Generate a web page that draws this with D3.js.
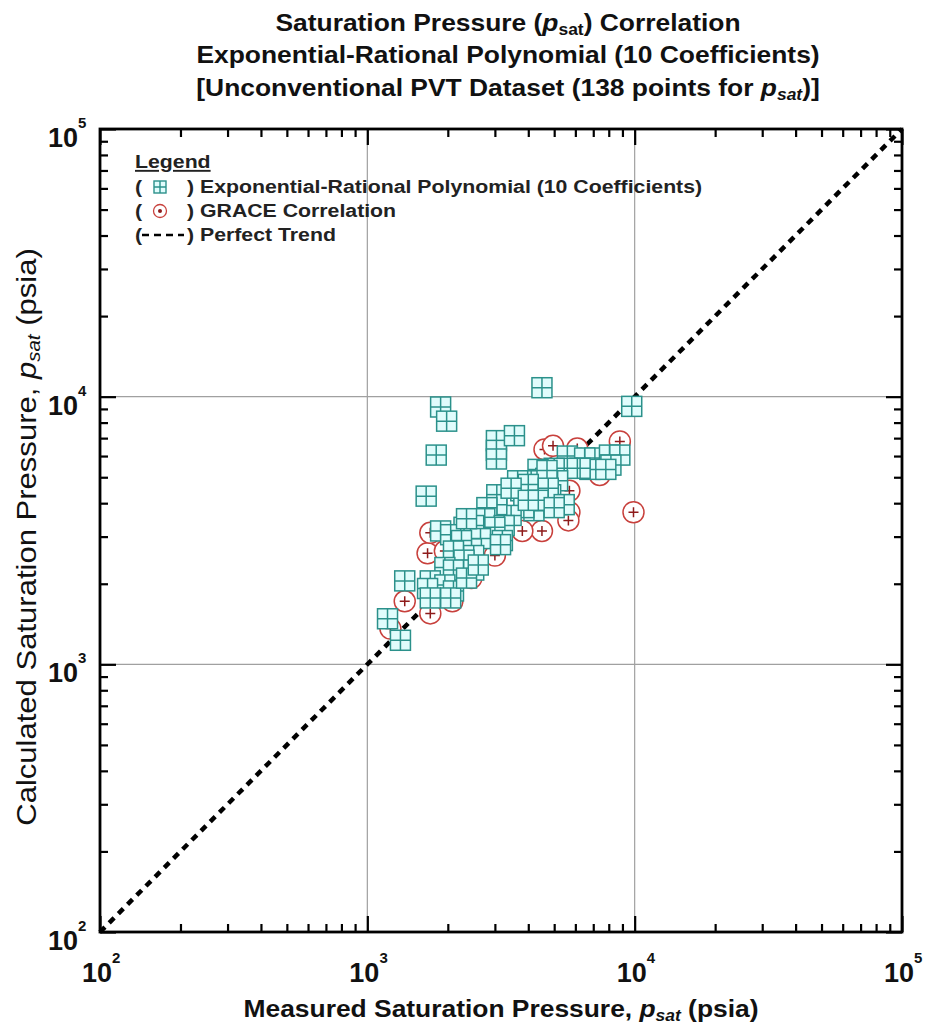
<!DOCTYPE html>
<html>
<head>
<meta charset="utf-8">
<script src="https://cdn.jsdelivr.net/npm/d3@7"></script>
<style>
  body { margin: 0; background: #fff; }
  svg text { font-family: "Liberation Sans", Arial, sans-serif; }
</style>
</head>
<body>
<div id="chart"></div>
<script>
// measured vs calculated p_sat (psia)
const erpMeasured = [4500, 9750, 1880, 1980, 1810, 1660, 3040, 3040, 3040, 3550,
  5600, 6500, 7100, 8050, 8800, 8150, 6800, 7800, 6250, 5600,
  5000, 4350, 4650, 5150, 4100, 3650, 3750, 4350, 4850, 5150,
  4200, 3850, 3450, 3050, 3050, 2800, 2750, 3250, 3000, 2500,
  2300, 1880, 2050, 2650, 3200, 2450, 2250, 2100, 2500, 2300,
  1950, 2100, 2500, 1720, 1950, 2100, 1380, 1680, 1720, 2050,
  1190, 1330, 4700, 4000, 3450, 4750, 5450, 4350, 2350, 2350,
  2600, 3150, 5000, 4000];
const erpCalculated = [10800, 9200, 9150, 8100, 6050, 4250, 6850, 6300, 5850, 7150,
  6000, 5900, 5900, 6050, 6050, 5550, 5350, 5350, 5400, 5400,
  5400, 5350, 4950, 4850, 4850, 4850, 4450, 4450, 4300, 3950,
  3750, 3850, 3600, 4300, 3950, 3850, 3500, 3300, 3250, 3300,
  3250, 3150, 3050, 2950, 2900, 2700, 2900, 2650, 2550, 2450,
  2300, 2250, 2250, 2050, 1980, 1880, 2050, 1920, 1770, 1770,
  1480, 1230, 5300, 4700, 4550, 4550, 3950, 4100, 3500, 2100,
  2350, 2800, 3850, 4100];

const graceMeasured = [4600, 4950, 6100, 8800, 7400, 5700, 5700, 5650, 9900, 4500,
  3800, 1680, 1950, 1380, 1720, 2080, 1220, 2450, 3000, 1720];
const graceCalculated = [6350, 6550, 6400, 6800, 5100, 4450, 3700, 3450, 3700, 3150,
  3150, 2600, 2650, 1720, 1550, 1720, 1360, 2100, 2550, 3100];

const decades = [2, 3, 4, 5];
const legendLabels = ["Exponential-Rational Polynomial (10 Coefficients)", "GRACE Correlation", "Perfect Trend"];

const teal = "#2b918b", tealFill = "#e0fcfc", red = "#c8403c", darkRed = "#8e1b1b";

const W = 925, H = 1028;
const m = { left: 100, top: 129, right: 23, bottom: 96 };
const pw = W - m.left - m.right, ph = H - m.top - m.bottom;

const svg = d3.select("#chart").append("svg")
  .attr("width", W).attr("height", H)
  .style("background", "#fff");

const x = d3.scaleLog().domain([100, 1e5]).range([m.left, m.left + pw]);
const y = d3.scaleLog().domain([100, 1e5]).range([m.top + ph, m.top]);

// text that is a bit wider than the font, like the original
function wideText(px, py, size, stretch, rotate) {
  const g = svg.append("g")
    .attr("transform", `translate(${px},${py})` + (rotate ? ` rotate(${rotate})` : "") + ` scale(${stretch},1)`);
  return g.append("text").attr("font-size", size).attr("fill", "#111");
}
function addSub(t, italicSub) {
  t.append("tspan").attr("font-style", "italic").text("p");
  t.append("tspan").attr("font-size", "0.66em").attr("dy", "0.25em")
    .attr("font-style", italicSub ? "italic" : null).text("sat");
}

// grid lines at 10^3, 10^4
const gridVals = [1e3, 1e4];
svg.append("g").selectAll("line").data(gridVals).enter().append("line")
  .attr("x1", d => x(d)).attr("x2", d => x(d))
  .attr("y1", m.top).attr("y2", m.top + ph)
  .attr("stroke", "#a0a0a0").attr("stroke-width", 1.2);
svg.append("g").selectAll("line").data(gridVals).enter().append("line")
  .attr("y1", d => y(d)).attr("y2", d => y(d))
  .attr("x1", m.left).attr("x2", m.left + pw)
  .attr("stroke", "#a0a0a0").attr("stroke-width", 1.2);

// perfect trend line
svg.append("line")
  .attr("x1", x(100)).attr("y1", y(100))
  .attr("x2", x(1e5)).attr("y2", y(1e5))
  .attr("stroke", "#000").attr("stroke-width", 4.5)
  .attr("stroke-dasharray", "7,6");

// GRACE circles
const grace = graceMeasured.map((v, i) => [v, graceCalculated[i]]);
const cg = svg.append("g").selectAll("g").data(grace).enter().append("g")
  .attr("transform", d => `translate(${x(d[0])},${y(d[1])})`);
cg.append("circle").attr("r", 10.5).attr("fill", "#fff")
  .attr("stroke", red).attr("stroke-width", 1.5);
cg.append("path").attr("d", "M-5,0H5M0,-5V5")
  .attr("stroke", darkRed).attr("stroke-width", 1.5);

// ERP squares
const erp = erpMeasured.map((v, i) => [v, erpCalculated[i]]);
const sq = svg.append("g").selectAll("g").data(erp).enter().append("g")
  .attr("transform", d => `translate(${x(d[0])},${y(d[1])})`);
sq.append("rect").attr("x", -10).attr("y", -10).attr("width", 20).attr("height", 20)
  .attr("fill", tealFill).attr("stroke", teal).attr("stroke-width", 1.5);
sq.append("path").attr("d", "M-10,0H10M0,-10V10")
  .attr("stroke", teal).attr("stroke-width", 1.5);

// axes: ticks inward on all four sides
const tickVals = [];
for (let e = 2; e < 5; e++) for (let k = 1; k < 10; k++) tickVals.push(k * Math.pow(10, e));
tickVals.push(1e5);
const isMajor = v => Math.abs(Math.log10(v) - Math.round(Math.log10(v))) < 1e-9;

function styleAxis(g, horiz, sign) {
  g.select(".domain").remove();
  g.selectAll(".tick line")
    .attr("stroke", "#000").attr("stroke-width", 2.2)
    .each(function (d) {
      const len = isMajor(d) ? 16 : 8;
      if (horiz) d3.select(this).attr("y2", sign * len);
      else d3.select(this).attr("x2", sign * len);
    });
}
const mk = a => a.tickValues(tickVals).tickFormat("").tickSizeOuter(0);
svg.append("g").attr("transform", `translate(0,${m.top + ph})`).call(mk(d3.axisBottom(x))).call(g => styleAxis(g, true, -1));
svg.append("g").attr("transform", `translate(0,${m.top})`).call(mk(d3.axisTop(x))).call(g => styleAxis(g, true, 1));
svg.append("g").attr("transform", `translate(${m.left},0)`).call(mk(d3.axisLeft(y))).call(g => styleAxis(g, false, 1));
svg.append("g").attr("transform", `translate(${m.left + pw},0)`).call(mk(d3.axisRight(y))).call(g => styleAxis(g, false, -1));

svg.append("rect").attr("x", m.left).attr("y", m.top).attr("width", pw).attr("height", ph)
  .attr("fill", "none").attr("stroke", "#000").attr("stroke-width", 2.8);

// tick labels 10^n
const xl = svg.append("g").selectAll("text").data(decades).enter().append("text")
  .attr("x", d => x(Math.pow(10, d)) - 18).attr("y", m.top + ph + 50)
  .attr("font-size", 27).attr("font-weight", "bold").attr("fill", "#111");
xl.append("tspan").text("10");
xl.append("tspan").attr("dy", -19).attr("font-size", 15).text(d => d);

const yl = svg.append("g").selectAll("text").data(decades).enter().append("text")
  .attr("x", 48).attr("y", d => y(Math.pow(10, d)) + 18)
  .attr("font-size", 27).attr("font-weight", "bold").attr("fill", "#111");
yl.append("tspan").text("10");
yl.append("tspan").attr("dy", -19).attr("font-size", 15).text(d => d);

// title
const t1 = wideText(508, 31, 24, 1.1).attr("text-anchor", "middle").attr("font-weight", "bold");
t1.append("tspan").text("Saturation Pressure (");
addSub(t1, false);
t1.append("tspan").attr("dy", "-0.16em").text(") Correlation");

wideText(508, 63, 24, 1.1).attr("text-anchor", "middle").attr("font-weight", "bold")
  .text("Exponential-Rational Polynomial (10 Coefficients)");

const t3 = wideText(508, 96, 24, 1.1).attr("text-anchor", "middle").attr("font-weight", "bold");
t3.append("tspan").text("[Unconventional PVT Dataset (138 points for ");
addSub(t3, true);
t3.append("tspan").attr("dy", "-0.16em").text(")]");

// axis titles
const xt = wideText(501, 1017, 24, 1.1).attr("text-anchor", "middle").attr("font-weight", "bold");
xt.append("tspan").text("Measured Saturation Pressure, ");
addSub(xt, true);
xt.append("tspan").attr("dy", "-0.16em").text(" (psia)");

const yt = wideText(36, 537, 27, 1.15, -90).attr("text-anchor", "middle");
yt.append("tspan").text("Calculated Saturation Pressure, ");
addSub(yt, true);
yt.append("tspan").attr("dy", "-0.16em").text(" (psia)");

// legend
const rows = [193, 217, 241];
wideText(135, 168, 19, 1.12).attr("font-weight", "bold")
  .attr("text-decoration", "underline").attr("fill", "#222").text("Legend");
legendLabels.forEach((lab, i) => {
  wideText(135, rows[i], 19, 1.12).attr("font-weight", "bold").attr("fill", "#222").text("(");
  wideText(187, rows[i], 19, 1.12).attr("font-weight", "bold").attr("fill", "#222").text(") " + lab);
});
const lsq = svg.append("g").attr("transform", `translate(160,${rows[0] - 6})`);
lsq.append("rect").attr("x", -6).attr("y", -6).attr("width", 12).attr("height", 12)
  .attr("fill", tealFill).attr("stroke", teal).attr("stroke-width", 1.4);
lsq.append("path").attr("d", "M-6,0H6M0,-6V6").attr("stroke", teal).attr("stroke-width", 1.4);
const lci = svg.append("g").attr("transform", `translate(160,${rows[1] - 6})`);
lci.append("circle").attr("r", 6.5).attr("fill", "#fff").attr("stroke", red).attr("stroke-width", 1.3);
lci.append("circle").attr("r", 2).attr("fill", darkRed);
svg.append("line").attr("x1", 142).attr("x2", 184).attr("y1", rows[2] - 6).attr("y2", rows[2] - 6)
  .attr("stroke", "#000").attr("stroke-width", 2.5).attr("stroke-dasharray", "7,5");
</script>
</body>
</html>
